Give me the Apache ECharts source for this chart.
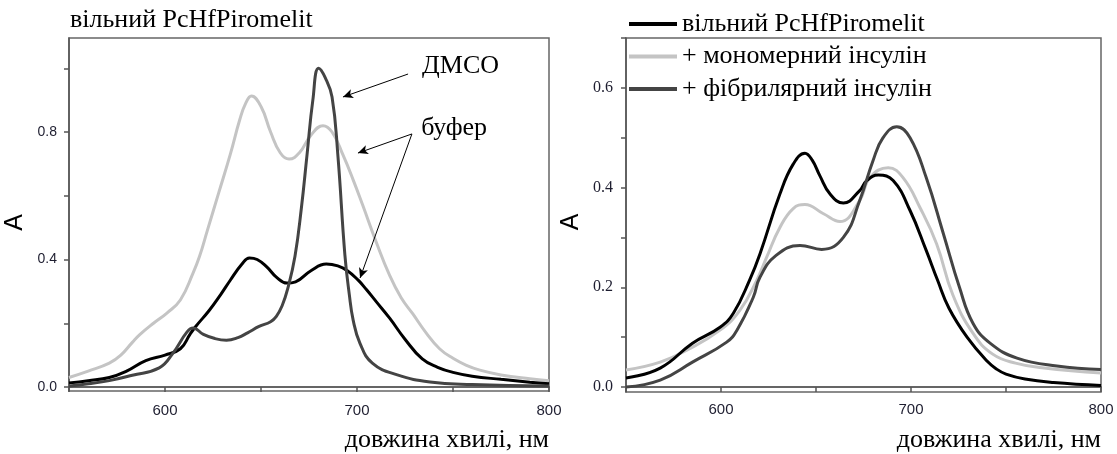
<!DOCTYPE html>
<html>
<head>
<meta charset="utf-8">
<script src="https://cdn.jsdelivr.net/npm/echarts@6/dist/echarts.min.js"></script>
<style>
  html, body { margin: 0; padding: 0; background: #fff; }
  #chart { width: 1117px; height: 454px; }
</style>
</head>
<body>
<div id="chart"></div>
<script>
// left panel: [wavelength, absorbance]
const leftFree = [
  [550, 0.013], [560, 0.02], [571, 0.03], [580, 0.05], [590, 0.083], [600, 0.10],
  [608, 0.12], [613, 0.165], [616, 0.19], [623, 0.24], [629, 0.29], [634, 0.335],
  [640, 0.385], [644, 0.405], [648, 0.4], [653, 0.377], [658, 0.345], [663.5, 0.326],
  [668, 0.33], [676, 0.365], [684, 0.386], [690, 0.38], [695, 0.365], [700.5, 0.336],
  [705, 0.305], [710, 0.268], [717, 0.216], [725, 0.15], [734, 0.088], [742, 0.062],
  [750, 0.046], [760, 0.034], [775, 0.024], [790, 0.015], [800, 0.01]
]
const leftLight = [
  [550, 0.03], [560, 0.05], [571, 0.075], [577, 0.1], [583, 0.14], [587, 0.165],
  [594, 0.2], [601, 0.232], [608, 0.273], [614.6, 0.357], [618, 0.41], [622, 0.49],
  [628, 0.61], [634, 0.73], [639, 0.84], [642, 0.89], [645, 0.913], [650, 0.88],
  [655, 0.8], [660, 0.735], [664.6, 0.715], [670, 0.735], [676, 0.79], [682.3, 0.82],
  [687, 0.8], [692.7, 0.728], [698, 0.65], [703, 0.57], [710, 0.455], [717, 0.35],
  [723, 0.28], [729, 0.23], [736, 0.17], [743, 0.12], [750, 0.09], [757, 0.068],
  [764, 0.053], [775, 0.038], [790, 0.026], [800, 0.02]
]
const leftDark = [
  [550, 0.003], [560, 0.01], [571, 0.02], [583, 0.037], [597, 0.06], [604, 0.105],
  [611.5, 0.173], [614.7, 0.185], [620, 0.165], [626, 0.152], [632, 0.147], [638, 0.155],
  [643, 0.17], [649, 0.19], [655, 0.205], [658, 0.222], [661, 0.255], [664, 0.31],
  [667.7, 0.41], [671, 0.56], [674, 0.73], [677, 0.9], [680, 1.0], [683.5, 0.97],
  [687, 0.91], [690, 0.73], [693.7, 0.414], [696, 0.29], [698, 0.21], [701.5, 0.138],
  [708, 0.075], [721, 0.038], [738, 0.016], [760, 0.008], [800, 0.003]
]

// right panel
const rightFree = [
  [550, 0.018], [568, 0.038], [585, 0.088], [599.5, 0.12], [606.5, 0.148], [615, 0.214],
  [620.5, 0.267], [631, 0.387], [638, 0.447], [644.2, 0.469], [648, 0.455], [652, 0.424],
  [657.4, 0.387], [664.4, 0.369], [673, 0.394], [676.7, 0.414], [682.8, 0.425], [690.6, 0.414],
  [699.5, 0.354], [708, 0.274], [714, 0.214], [720, 0.158], [729.5, 0.1], [740, 0.052],
  [745, 0.036], [750, 0.026], [760, 0.016], [775, 0.009], [800, 0.003]
]
const rightMono = [
  [550, 0.034], [568, 0.05], [582, 0.074], [599.5, 0.114], [610, 0.154], [618.8, 0.214],
  [624, 0.26], [631, 0.32], [638, 0.358], [644.2, 0.366], [653.7, 0.348], [662.6, 0.332],
  [673, 0.374], [678.4, 0.42], [688, 0.44], [695.8, 0.42], [704.7, 0.36], [713.5, 0.287],
  [722, 0.185], [732.6, 0.108], [743, 0.066], [755, 0.048], [770, 0.038], [800, 0.028]
]
const rightFibril = [
  [550, 0.0], [568, 0.014], [585, 0.05], [603, 0.09], [608.4, 0.114], [617, 0.18],
  [620.5, 0.22], [629, 0.264], [641.6, 0.284], [653, 0.276], [664.4, 0.3], [673, 0.374],
  [680, 0.454], [685.3, 0.5], [692.5, 0.522], [699.5, 0.5], [708, 0.42], [717, 0.308],
  [725.5, 0.2], [732.6, 0.128], [741.6, 0.088], [755.8, 0.058], [776.8, 0.042], [800, 0.035]
]

const xTicks = [550, 600, 650, 700, 750, 800]
const xLabels = [600, 700, 800]
const leftYTicks = [0, 0.2, 0.4, 0.6, 0.8, 1.0]
const leftYLabels = [0, 0.4, 0.8]
const rightYTicks = [0, 0.1, 0.2, 0.3, 0.4, 0.5, 0.6, 0.7]
const rightYLabels = [0, 0.2, 0.4, 0.6]

const legendNames = ['вільний PcHfPiromelit', '+ мономерний інсулін', '+ фібрилярний інсулін']

const serif = '"Liberation Serif", "Times New Roman", serif'
const sans = '"Liberation Sans", Arial, sans-serif'
const axisColor = '#555'
const labelColor = '#1e1e30'

const chart = echarts.init(document.getElementById('chart'))

const xAxisBase = (gridIndex, labelFont, margin) => ({
  type: 'value',
  gridIndex,
  min: 550,
  max: 800,
  splitLine: { show: false },
  axisLine: { lineStyle: { color: '#333', width: 1.5 } },
  axisTick: { customValues: xTicks, length: 5, lineStyle: { color: axisColor, width: 1.5 } },
  axisLabel: { customValues: xLabels, margin, color: labelColor, fontFamily: labelFont, fontSize: 15 },
  name: 'довжина хвилі, нм',
  nameLocation: 'end',
  nameGap: 0,
  nameTextStyle: {
    fontFamily: serif, fontSize: 26, color: '#000',
    align: 'right', verticalAlign: 'top', padding: [40, 0, 0, 0]
  }
})

const yAxisBase = (gridIndex, min, max, ticks, labels, font, fontSize, margin, gap, pad) => ({
  type: 'value',
  gridIndex,
  min,
  max,
  splitLine: { show: false },
  axisLine: { show: true, lineStyle: { color: axisColor, width: 1.5 } },
  axisTick: { show: true, customValues: ticks, length: 5, lineStyle: { color: axisColor, width: 1.5 } },
  axisLabel: {
    customValues: labels, margin, color: labelColor, fontFamily: font, fontSize,
    formatter: v => v.toFixed(1)
  },
  name: 'A',
  nameLocation: 'middle',
  nameRotate: 90,
  nameGap: gap,
  nameTextStyle: { fontFamily: sans, fontSize: 25, color: '#000', padding: [0, pad, 0, 0] }
})

const lineSeries = (name, data, color, axisIdx, extra) => Object.assign({
  name,
  type: 'line',
  data,
  xAxisIndex: axisIdx,
  yAxisIndex: axisIdx,
  smooth: 0.45,
  showSymbol: false,
  symbol: 'none',
  lineStyle: { color, width: 3 },
  itemStyle: { color },
  silent: true
}, extra || {})

const arrowStyle = { color: '#000', width: 1, type: 'solid' }

const option = {
  animation: false,
  title: {
    text: 'вільний PcHfPiromelit',
    left: 70,
    top: 7,
    padding: 0,
    textStyle: { fontFamily: serif, fontSize: 26, fontWeight: 'normal', color: '#000' }
  },
  legend: {
    data: legendNames,
    orient: 'vertical',
    left: 629,
    top: 11,
    padding: 0,
    icon: 'rect',
    itemWidth: 48,
    itemHeight: 4,
    itemGap: 6.5,
    selectedMode: false,
    textStyle: { fontFamily: serif, fontSize: 26, lineHeight: 26, color: '#000' }
  },
  grid: [
    { left: 69, right: 568, top: 38, bottom: 63, show: true, borderColor: '#666', borderWidth: 1.5 },
    { left: 626, right: 16, top: 38, bottom: 62, show: true, borderColor: '#666', borderWidth: 1.5 }
  ],
  xAxis: [
    xAxisBase(0, sans, 12),
    xAxisBase(1, sans, 10)
  ],
  yAxis: [
    yAxisBase(0, -0.0125, 1.095, leftYTicks, leftYLabels, sans, 14, 12, 41, 16),
    yAxisBase(1, -0.01, 0.7, rightYTicks, rightYLabels, serif, 16, 13, 42, 14)
  ],
  series: [
    lineSeries('left-light', leftLight, '#c4c4c4', 0),
    lineSeries('left-free', leftFree, '#000', 0, {
      markLine: {
        silent: true,
        symbol: ['none', 'arrow'],
        symbolSize: [7, 10],
        label: { show: false },
        lineStyle: arrowStyle,
        data: [
          [{ coord: [726.6, 0.982] }, { coord: [692.7, 0.91] }],
          [{ coord: [728.6, 0.794] }, { coord: [700.5, 0.734] }],
          [{ coord: [728.6, 0.794] }, { coord: [701.6, 0.342] }]
        ]
      },
      markPoint: {
        silent: true,
        symbol: 'circle',
        symbolSize: 0,
        label: {
          show: true, position: 'right', distance: 0,
          fontFamily: serif, fontSize: 26, color: '#000',
          formatter: p => p.name
        },
        data: [
          { name: 'ДМСО', coord: [733.9, 1.007] },
          { name: 'буфер', coord: [733.4, 0.8125] }
        ]
      }
    }),
    lineSeries('left-dmso', leftDark, '#444', 0),
    lineSeries(legendNames[1], rightMono, '#c4c4c4', 1),
    lineSeries(legendNames[0], rightFree, '#000', 1),
    lineSeries(legendNames[2], rightFibril, '#444', 1)
  ]
}

chart.setOption(option)
</script>
</body>
</html>
